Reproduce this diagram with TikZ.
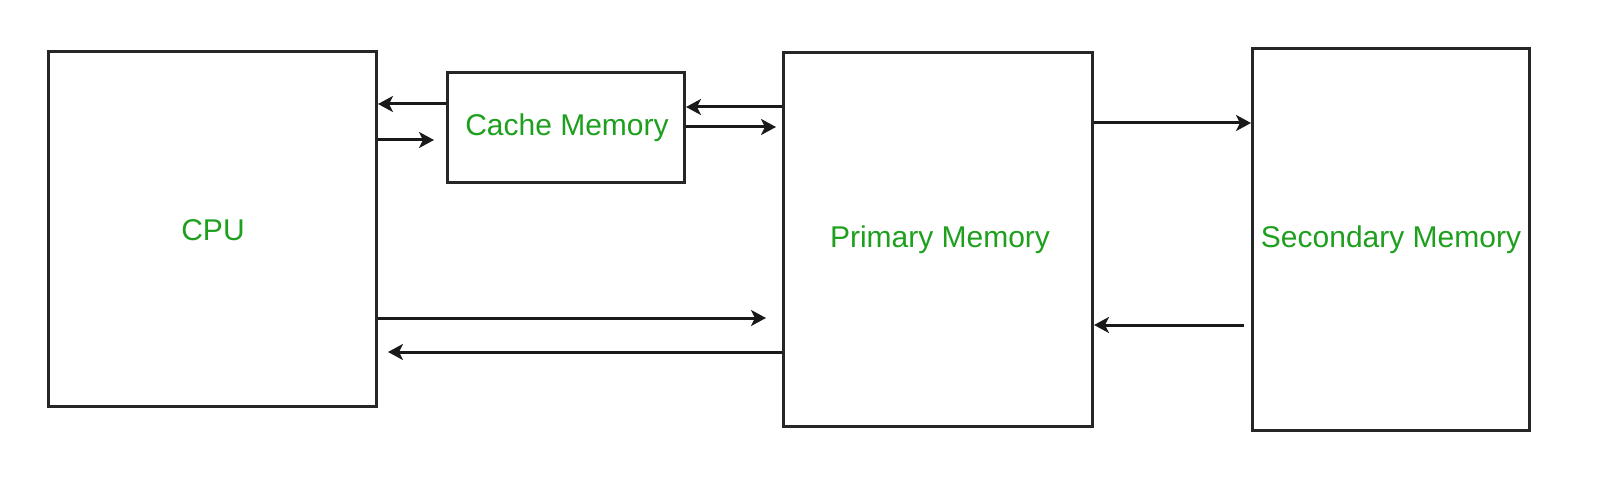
\documentclass[tikz,border=0pt]{standalone}
\usepackage{fontspec}
\setmainfont{Liberation Sans}
\usetikzlibrary{arrows.meta,calc}
\definecolor{txtgreen}{RGB}{30,160,30}
\begin{document}
\begin{tikzpicture}[x=1pt,y=-1pt,
  blockbox/.style={draw=black!85,line width=3pt,inner sep=0pt,anchor=north west},
  lbl/.style={text=txtgreen,font=\fontsize{30}{35}\selectfont},
  arr/.style={draw=black!90,line width=3pt,-{Stealth[length=15pt,width=16pt,inset=4pt]}}]
\useasboundingbox[fill=white] (0,0) rectangle (1600,481);
\node[blockbox,minimum width=328pt,minimum height=355pt] (cpu) at (47,50) {};
\node[lbl] (cputxt) at (213,230) {CPU};
\node[blockbox,minimum width=237pt,minimum height=110pt] (cache) at (446,71) {};
\node[lbl] (cachetxt) at (567,128) {Cache Memory};
\node[blockbox,minimum width=309pt,minimum height=374pt] (prim) at (782,51) {};
\node[lbl] (primtxt) at (940,240) {Primary Memory};
\node[blockbox,minimum width=277pt,minimum height=382pt] (sec) at (1251,47) {};
\node[lbl] (sectxt) at (1391,240) {Secondary Memory};
% cache <-> cpu
\draw[arr] (cache.west |- 0,104) -- (cpu.east |- 0,104);
\coordinate (c1) at ($(cache.west |- 0,140)+(-12,0)$);
\draw[arr] (cpu.east |- 0,140) -- (c1);
% primary <-> cache
\draw[arr] (prim.west |- 0,107) -- (cache.east |- 0,107);
\coordinate (c2) at ($(prim.west |- 0,127)+(-6,0)$);
\draw[arr] (cache.east |- 0,127) -- (c2);
% primary <-> secondary
\draw[arr] (prim.east |- 0,123) -- (sec.west |- 0,123);
\coordinate (c3) at ($(sec.west |- 0,325)+(-7,0)$);
\draw[arr] (c3) -- (prim.east |- 0,325);
% cpu <-> primary
\coordinate (c4) at ($(prim.west |- 0,318)+(-16,0)$);
\draw[arr] (cpu.east |- 0,318) -- (c4);
\coordinate (c5) at ($(cpu.east |- 0,352)+(10,0)$);
\draw[arr] (prim.west |- 0,352) -- (c5);
\end{tikzpicture}
\end{document}
